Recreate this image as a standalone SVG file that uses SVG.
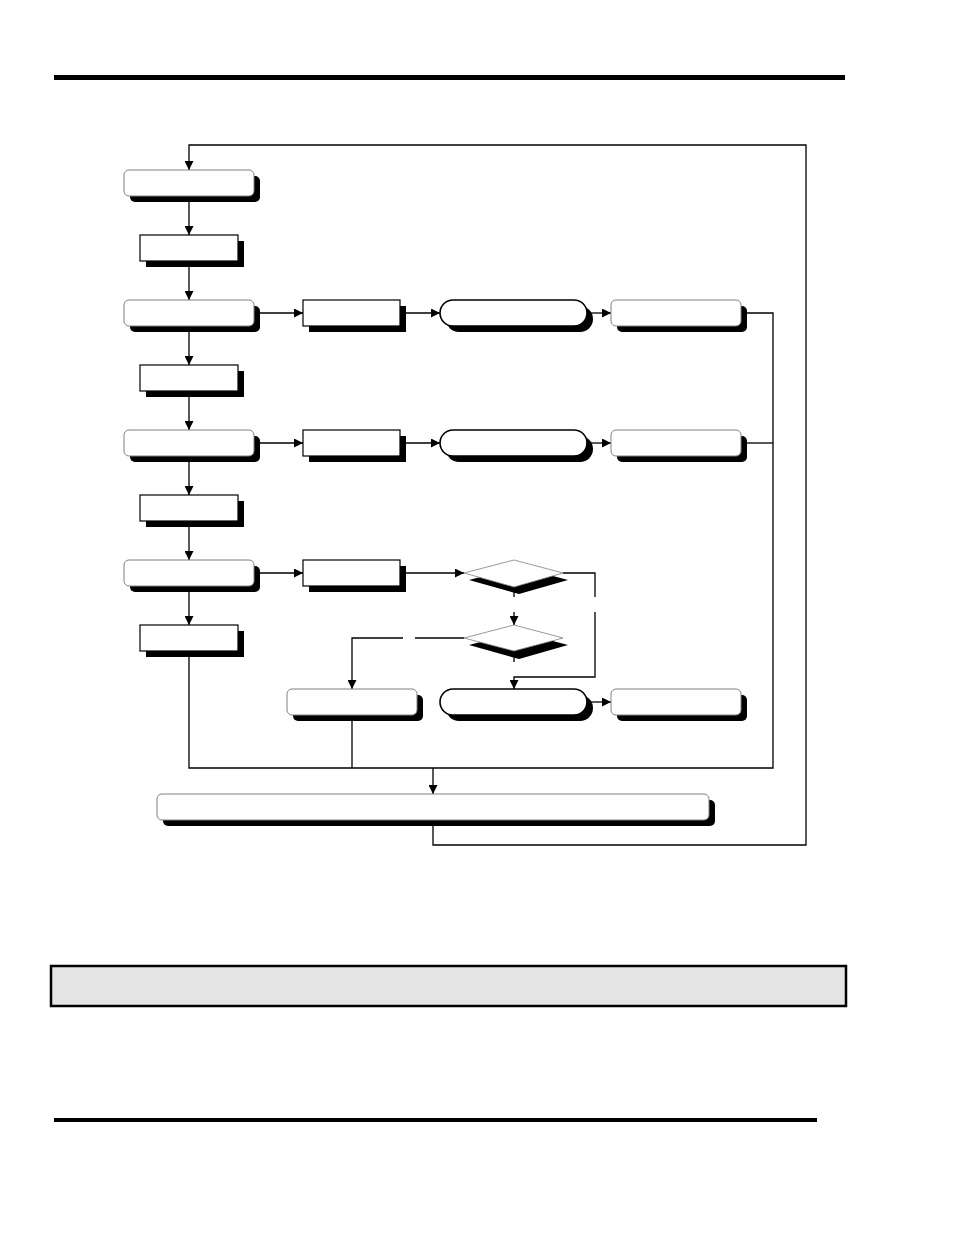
<svg xmlns="http://www.w3.org/2000/svg" width="954" height="1235" viewBox="0 0 954 1235">
<style>
.bar{fill:#000}
.c{fill:none;stroke:#000;stroke-width:1.3}
.sh{fill:#000}
.rr{fill:#fff;stroke:#808080;stroke-width:1}
.bx{fill:#fff;stroke:#000;stroke-width:1.2}
.tm{fill:#fff;stroke:#000;stroke-width:1.6}
.dm{fill:#fff;stroke:#808080;stroke-width:0.8}
</style>
<defs>
<marker id="ah" viewBox="0 0 10 10" refX="10" refY="5" markerWidth="9" markerHeight="9" markerUnits="userSpaceOnUse" orient="auto">
<path d="M0,0 L10,5 L0,10 z" fill="#000"/>
</marker>
</defs>
<rect class="bar" x="54" y="75" width="791" height="5"/>
<rect class="bar" x="54" y="1118" width="763" height="4"/>

<g id="connectors">
<path class="c" d="M433,820 V845 H806 V145 H189 V170" marker-end="url(#ah)"/>
<path class="c" d="M189,196 V235" marker-end="url(#ah)"/>
<path class="c" d="M189,261 V300" marker-end="url(#ah)"/>
<path class="c" d="M189,326 V365" marker-end="url(#ah)"/>
<path class="c" d="M189,391 V430" marker-end="url(#ah)"/>
<path class="c" d="M189,456 V495" marker-end="url(#ah)"/>
<path class="c" d="M189,521 V560" marker-end="url(#ah)"/>
<path class="c" d="M189,586 V625" marker-end="url(#ah)"/>
<path class="c" d="M189,651 V768 H773 V313 H741"/>
<path class="c" d="M741,443 H773"/>
<path class="c" d="M352,715 V768"/>
<path class="c" d="M433,768 V794" marker-end="url(#ah)"/>
<path class="c" d="M254,313 H303" marker-end="url(#ah)"/>
<path class="c" d="M400,313 H440" marker-end="url(#ah)"/>
<path class="c" d="M587,313 H611" marker-end="url(#ah)"/>
<path class="c" d="M254,443 H303" marker-end="url(#ah)"/>
<path class="c" d="M400,443 H440" marker-end="url(#ah)"/>
<path class="c" d="M587,443 H611" marker-end="url(#ah)"/>
<path class="c" d="M254,573 H303" marker-end="url(#ah)"/>
<path class="c" d="M400,573 H464" marker-end="url(#ah)"/>
<path class="c" d="M563,573 H595 V597"/>
<path class="c" d="M595,612 V677 H514 V689" marker-end="url(#ah)"/>
<path class="c" d="M514,586 V597"/>
<path class="c" d="M514,612 V625" marker-end="url(#ah)"/>
<path class="c" d="M464,638 H415"/>
<path class="c" d="M403,638 H352 V689" marker-end="url(#ah)"/>
<path class="c" d="M514,651 V662"/>
<path class="c" d="M587,702 H611" marker-end="url(#ah)"/>
</g>

<g id="n1"><rect class="sh" x="130" y="176" width="130" height="26" rx="5"/><rect class="rr" x="124" y="170" width="130" height="26" rx="5"/></g>
<g id="n2"><rect class="sh" x="146" y="241" width="98" height="26"/><rect class="bx" x="140" y="235" width="98" height="26"/></g>
<g id="n3"><rect class="sh" x="130" y="306" width="130" height="26" rx="5"/><rect class="rr" x="124" y="300" width="130" height="26" rx="5"/></g>
<g id="n4"><rect class="sh" x="146" y="371" width="98" height="26"/><rect class="bx" x="140" y="365" width="98" height="26"/></g>
<g id="n5"><rect class="sh" x="130" y="436" width="130" height="26" rx="5"/><rect class="rr" x="124" y="430" width="130" height="26" rx="5"/></g>
<g id="n6"><rect class="sh" x="146" y="501" width="98" height="26"/><rect class="bx" x="140" y="495" width="98" height="26"/></g>
<g id="n7"><rect class="sh" x="130" y="566" width="130" height="26" rx="5"/><rect class="rr" x="124" y="560" width="130" height="26" rx="5"/></g>
<g id="n8"><rect class="sh" x="146" y="631" width="98" height="26"/><rect class="bx" x="140" y="625" width="98" height="26"/></g>

<g id="r3"><rect class="sh" x="309" y="306" width="97" height="26"/><rect class="bx" x="303" y="300" width="97" height="26"/></g>
<g id="t3"><rect class="sh" x="446" y="306" width="147" height="26" rx="13"/><rect class="tm" x="440" y="300" width="147" height="26" rx="13"/></g>
<g id="e3"><rect class="sh" x="617" y="306" width="130" height="26" rx="5"/><rect class="rr" x="611" y="300" width="130" height="26" rx="5"/></g>

<g id="r5"><rect class="sh" x="309" y="436" width="97" height="26"/><rect class="bx" x="303" y="430" width="97" height="26"/></g>
<g id="t5"><rect class="sh" x="446" y="436" width="147" height="26" rx="13"/><rect class="tm" x="440" y="430" width="147" height="26" rx="13"/></g>
<g id="e5"><rect class="sh" x="617" y="436" width="130" height="26" rx="5"/><rect class="rr" x="611" y="430" width="130" height="26" rx="5"/></g>

<g id="r7"><rect class="sh" x="309" y="566" width="97" height="26"/><rect class="bx" x="303" y="560" width="97" height="26"/></g>
<g id="d1"><polygon class="sh" points="469,580 519,567 568,580 519,594"/><polygon class="dm" points="464,573 514,560 563,573 514,587"/></g>
<g id="d2"><polygon class="sh" points="469,645 519,632 568,645 519,659"/><polygon class="dm" points="464,638 514,625 563,638 514,651"/></g>

<g id="b1"><rect class="sh" x="293" y="695" width="130" height="26" rx="5"/><rect class="rr" x="287" y="689" width="130" height="26" rx="5"/></g>
<g id="t9"><rect class="sh" x="446" y="695" width="147" height="26" rx="13"/><rect class="tm" x="440" y="689" width="147" height="26" rx="13"/></g>
<g id="e9"><rect class="sh" x="617" y="695" width="130" height="26" rx="5"/><rect class="rr" x="611" y="689" width="130" height="26" rx="5"/></g>

<g id="big"><rect class="sh" x="163" y="800" width="552" height="26" rx="5"/><rect class="rr" x="157" y="794" width="552" height="26" rx="5"/></g>

<g id="note"><rect x="51" y="966" width="795" height="40" fill="#e4e4e4" stroke="#000" stroke-width="2.5"/></g>
</svg>
